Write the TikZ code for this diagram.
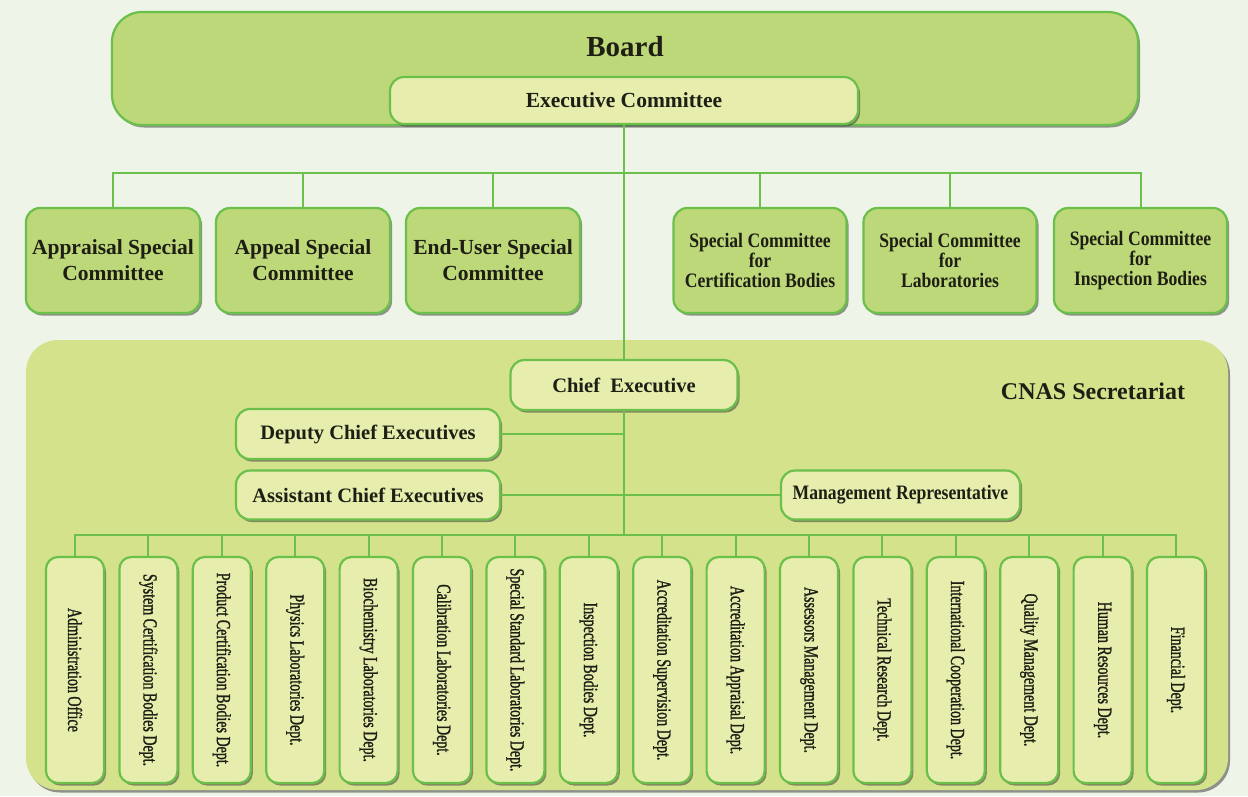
\documentclass[tikz,border=0pt]{standalone}
\usepackage{fontspec}
\usepackage{graphicx}
\setmainfont{Liberation Serif}
\newfontfamily\condf[FakeStretch=0.86]{Liberation Serif}
\newfontfamily\deptf[FakeStretch=0.70,FakeBold=1.2]{Liberation Serif}
\usetikzlibrary{shadows}
\definecolor{bg}{HTML}{EEF4E7}
\definecolor{boardfill}{HTML}{BDD879}
\definecolor{edge}{HTML}{6BBF4B}
\definecolor{secfill}{HTML}{D4E38B}
\definecolor{light}{HTML}{E7EEAD}
\definecolor{ink}{HTML}{1E1E14}
\begin{document}
\begin{tikzpicture}[x=1pt,y=-1pt,
  shade/.style={drop shadow={shadow xshift=2pt,shadow yshift=-2.5pt,opacity=0.55,fill=black!75}},
  gbox/.style={draw=edge,line width=2.2pt,fill=boardfill,rounded corners=14pt,shade,text=ink,align=center,inner sep=0pt},
  lbox/.style={gbox,fill=light},
  combox/.style={gbox,minimum width=174pt,minimum height=105pt,font=\bfseries\fontsize{21.5}{26}\selectfont},
  rcombox/.style={gbox,minimum width=173pt,minimum height=105pt,font=\condf\bfseries\fontsize{20.5}{20}\selectfont},
  midbox/.style={lbox,minimum height=50pt,font=\bfseries\fontsize{20.5}{24}\selectfont},
  dept/.style={lbox,minimum width=58pt,minimum height=226pt,rounded corners=12pt,font=\deptf\fontsize{20}{20}\selectfont},
  wire/.style={draw=edge,line width=2pt}]
\fill[bg] (0,0) rectangle (1248,796);
\useasboundingbox (0,0) rectangle (1248,796);

% Board
\node[gbox,rounded corners=30pt,minimum width=1026pt,minimum height=113pt] (board) at (625,68.5) {};
\node[text=ink,font=\bfseries\fontsize{29}{32}\selectfont] (boardt) at (625,47) {Board};
\node[lbox,minimum width=468pt,minimum height=47pt,font=\bfseries\fontsize{21.5}{24}\selectfont] (exec) at (624,100.5) {Executive Committee};

% Committees
\node[combox] (c1) at (113,260.5) {Appraisal Special\\Committee};
\node[combox] (c2) at (303,260.5) {Appeal Special\\Committee};
\node[combox] (c3) at (493,260.5) {End-User Special\\Committee};
\node[rcombox] (c4) at (760,260.5) {Special Committee\\for\\Certification Bodies};
\node[rcombox] (c5) at (950,260.5) {Special Committee\\for\\Laboratories};
\node[rcombox] (c6) at (1140.5,260.5) {Special Committee\\for\\Inspection Bodies};

% Secretariat
\node[fill=secfill,rounded corners=32pt,minimum width=1202pt,minimum height=450pt,shade,inner sep=0pt] (sec) at (627,565) {};
\node[text=ink,font=\bfseries\fontsize{24}{28}\selectfont] (sect) at (1093,391) {CNAS Secretariat};

\node[midbox,minimum width=227pt] (chief) at (624,385) {Chief\ \ Executive};
\node[midbox,minimum width=264pt] (dep) at (368,434) {Deputy Chief Executives};
\node[midbox,minimum width=264pt,minimum height=49pt] (asst) at (368,495) {Assistant Chief Executives};
\node[midbox,minimum width=239pt,minimum height=49pt,font=\condf\bfseries\fontsize{20.5}{24}\selectfont] (mgmt) at (900.5,495) {Management Representative};

% Departments
\foreach \t [count=\i] in {Administration Office,System Certification Bodies Dept.,Product Certification Bodies Dept.,Physics Laboratories Dept.,Biochemistry Laboratories Dept.,Calibration Laboratories Dept.,Special Standard Laboratories Dept.,Inspection Bodies Dept.,Accreditation Supervision Dept.,Accreditation Appraisal Dept.,Assessors Management Dept.,Technical Research Dept.,International Cooperation Dept.,Quality Management Dept.,Human Resources Dept.,Financial Dept.}
  \node[dept] (d\i) at ({75+73.4*(\i-1)},670) {\rotatebox{-90}{\t}};

% Wires
\coordinate (cb) at (624,173);
\coordinate (bus) at (624,535);
\draw[wire] (exec.south) -- (chief.north);
\draw[wire] (c1.north) |- (cb) -| (c6.north);
\foreach \k in {2,3,4,5}
  \draw[wire] (c\k.north) -- (c\k.north |- cb);
\draw[wire] (chief.south) -- (bus);
\draw[wire] (dep.east) -- (dep.east -| chief.south);
\draw[wire] (asst.east) -- (mgmt.west);
\draw[wire] (d1.north) |- (bus) -| (d16.north);
\foreach \k in {2,...,15}
  \draw[wire] (d\k.north) -- (d\k.north |- bus);
\end{tikzpicture}
\end{document}
